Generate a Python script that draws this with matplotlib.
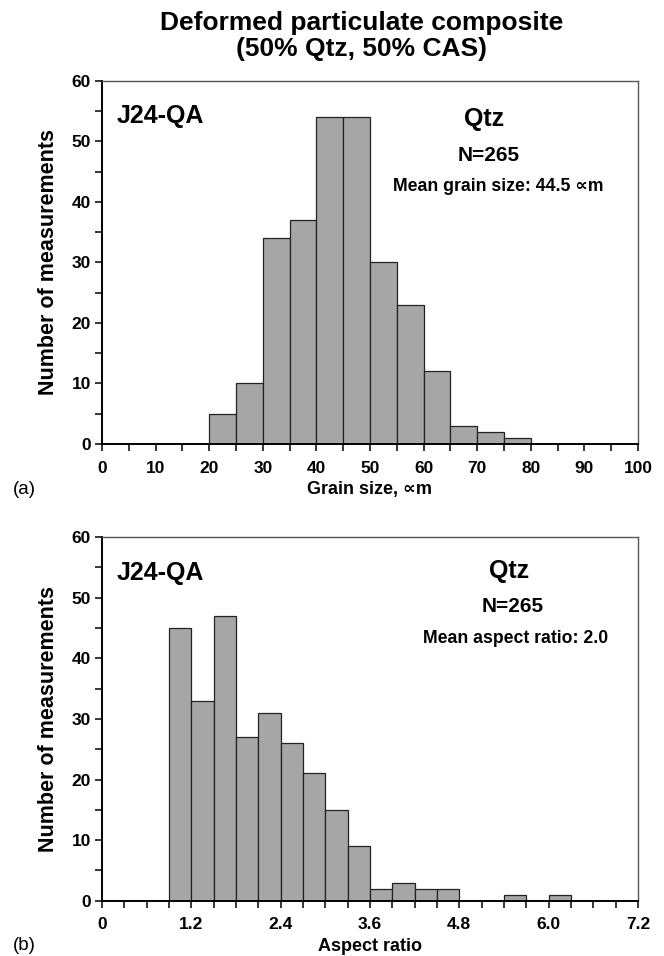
import numpy as np
import matplotlib
matplotlib.use('Agg')
import matplotlib.pyplot as plt
from matplotlib.ticker import MultipleLocator, FixedLocator

plt.rcParams['font.family'] = ['Liberation Sans', 'DejaVu Sans']
plt.rcParams['font.weight'] = 'bold'

# (a) grain size histogram, 5 um bins from 20 to 80
grain_edges = [20, 25, 30, 35, 40, 45, 50, 55, 60, 65, 70, 75]
grain_counts = [5, 10, 34, 37, 54, 54, 30, 23, 12, 3, 2, 1]
grain_width = 5

# (b) aspect ratio histogram, 0.3 bins from 0.9
aspect_edges = [0.9, 1.2, 1.5, 1.8, 2.1, 2.4, 2.7, 3.0, 3.3, 3.6, 3.9, 4.2,
                4.5, 4.8, 5.1, 5.4, 5.7, 6.0]
aspect_counts = [45, 33, 47, 27, 31, 26, 21, 15, 9, 2, 3, 2, 2, 0, 0, 1, 0, 1]
aspect_width = 0.3

aspect_ticks = [0, 1.2, 2.4, 3.6, 4.8, 6.0, 7.2]
aspect_labels = ['0', '1.2', '2.4', '3.6', '4.8', '6.0', '7.2']

BAR = '#a6a6a6'

fig = plt.figure(figsize=(6.64, 9.56), dpi=100)
ax1 = fig.add_axes([0.1536, 0.5356, 0.8072, 0.3797])
ax2 = fig.add_axes([0.1536, 0.0578, 0.8072, 0.3804])


def style(ax):
    ax.set_ylim(0, 60)
    ax.yaxis.set_major_locator(MultipleLocator(10))
    ax.yaxis.set_minor_locator(MultipleLocator(5))
    ax.tick_params(which='both', direction='out', length=5, width=1.1,
                   labelsize=12.5, pad=3)
    ax.tick_params(axis='x', which='both', pad=7)
    for s in ['left', 'bottom']:
        ax.spines[s].set_linewidth(1.4)
        ax.spines[s].set_color('black')
    for s in ['top', 'right']:
        ax.spines[s].set_linewidth(1.0)
        ax.spines[s].set_color('#555555')
    ax.set_ylabel('Number of measurements', fontsize=15.5, fontweight='bold', labelpad=9)


# panel (a)
ax1.bar(grain_edges, grain_counts, width=grain_width, align='edge',
        color=BAR, edgecolor='#222222', linewidth=0.9, zorder=2)
ax1.set_xlim(0, 100)
ax1.xaxis.set_major_locator(MultipleLocator(10))
ax1.xaxis.set_minor_locator(MultipleLocator(5))
style(ax1)
ax1.set_xlabel('Grain size, ∝m', fontsize=13, fontweight='bold', labelpad=4)
ax1.text(0.028, 0.904, 'J24-QA', transform=ax1.transAxes, fontsize=18,
         ha='left', va='center')
ax1.text(0.713, 0.895, 'Qtz', transform=ax1.transAxes, fontsize=18,
         ha='center', va='center')
ax1.text(0.721, 0.796, 'N=265', transform=ax1.transAxes, fontsize=15,
         ha='center', va='center')
ax1.text(0.739, 0.709, 'Mean grain size: 44.5 ∝m', transform=ax1.transAxes,
         fontsize=12.7, ha='center', va='center')

# panel (b)
ax2.bar(aspect_edges, aspect_counts, width=aspect_width, align='edge',
        color=BAR, edgecolor='#222222', linewidth=0.9, zorder=2)
ax2.set_xlim(0, 7.2)
ax2.xaxis.set_major_locator(FixedLocator(aspect_ticks))
ax2.set_xticklabels(aspect_labels)
ax2.xaxis.set_minor_locator(MultipleLocator(0.3))
style(ax2)
ax2.set_xlabel('Aspect ratio', fontsize=13, fontweight='bold', labelpad=4)
ax2.text(0.028, 0.90, 'J24-QA', transform=ax2.transAxes, fontsize=18,
         ha='left', va='center')
ax2.text(0.759, 0.906, 'Qtz', transform=ax2.transAxes, fontsize=18,
         ha='center', va='center')
ax2.text(0.767, 0.808, 'N=265', transform=ax2.transAxes, fontsize=15,
         ha='center', va='center')
ax2.text(0.771, 0.722, 'Mean aspect ratio: 2.0', transform=ax2.transAxes,
         fontsize=12.7, ha='center', va='center')

fig.text(0.544, 1 - 36 / 956, 'Deformed particulate composite\n(50% Qtz, 50% CAS)',
         ha='center', va='center', fontsize=19, fontweight='bold', linespacing=1.1)
fig.text(0.02, 1 - 490 / 956, '(a)', fontsize=13.5, fontweight='normal',
         ha='left', va='center')
fig.text(0.02, 1 - 945 / 956, '(b)', fontsize=13.5, fontweight='normal',
         ha='left', va='center')

fig.savefig('out.png', dpi=100)
